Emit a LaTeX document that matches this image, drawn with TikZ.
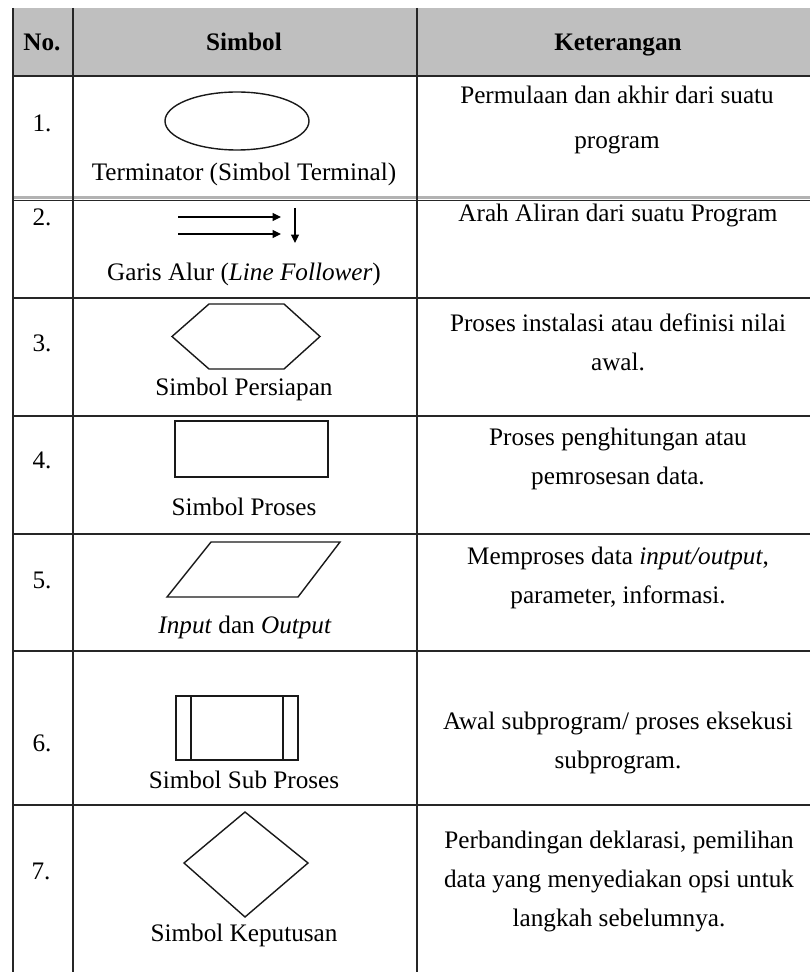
\documentclass[tikz,border=0pt]{standalone}
\usepackage{fontspec}
\setmainfont{Liberation Serif}
\usepackage{tikz}
\usetikzlibrary{calc}
\usetikzlibrary{arrows.meta}

\begin{document}
\begin{tikzpicture}[x=0.5pt,y=-0.5pt,
        cell/.style={font=\fontsize{12.6}{19.5}\selectfont, align=center, inner sep=0pt},
        head/.style={cell, font=\fontsize{12.6}{19.5}\selectfont\bfseries, text height=8.6pt, text depth=2.8pt},
        rule/.style={black!85, line width=0.8pt},
        shp/.style={draw, black!90, line width=0.7pt},
        flow/.style={black, line width=0.6pt, -{Triangle[length=4.2pt,width=4pt]}}]
        \useasboundingbox (0,0) rectangle (810,972);
        % header
        \fill[black!25] (13,8) rectangle (810,76);
        \fill[black!30] (13,196.5) rectangle (810,199.5);
        \draw[rule] (13,8) -- (13,972);
        \draw[rule] (73,8) -- (73,972);
        \draw[rule] (417,8) -- (417,972);
        \foreach \y in {76,200.5,298,416,534,651,805}
            \draw[rule] (13,\y) -- (810,\y);
        \node[head] (hno) at (42,45) {No.};
        \node[head] (hsym) at (244,45) {Simbol};
        \node[head] (hket) at (618,45) {Keterangan};

        % first row
        \node[cell] (n1) at (42,123) {1.};
        \draw[shp] (237,121) ellipse (72 and 29);
        \node[cell] (s1) at (244,174) {Terminator (Simbol Terminal)};
        \node[cell] (k1) at (617,120) {Permulaan dan akhir dari suatu\\[3pt]program};

        % sec row
        \node[cell] (n2) at (42,217) {2.};
        \coordinate (fa) at (178,217);
        \coordinate (fb) at (281,217);
        \coordinate (fc) at (178,234);
        \coordinate (fd) at (281,234);
        \coordinate (fe) at (295,208);
        \coordinate (ff) at (295,243);
        \draw[flow] (fa) -- (fb);
        \draw[flow] (fc) -- (fd);
        \draw[flow] (fe) -- (ff);
        \node[cell] (s2) at (244,274) {Garis Alur (\textit{Line Follower})};
        \node[cell] (k2) at (618,215) {Arah Aliran dari suatu Program};

        % third row
        \node[cell] (n3) at (42,343) {3.};
        \draw[shp] (172,336.5) -- (209,304) -- (284,304) -- (320,336.5) -- (284,369) -- (209,369) -- cycle;
        \node[cell] (s3) at (244,389) {Simbol Persiapan};
        \node[cell] (k3) at (618,342.5) {Proses instalasi atau definisi nilai\\awal.};

        % fourth row
        \node[cell] (n4) at (42,460) {4.};
        \draw[shp] (175,421) rectangle (328,477);
        \node[cell] (s4) at (244,507) {Simbol Proses};
        \node[cell] (k4) at (618,459) {Proses penghitungan atau\\pemrosesan data.};

        % fifth row
        \node[cell] (n5) at (42,580) {5.};
        \draw[shp] (211,542) -- (340,542) -- (298,597) -- (167,597) -- cycle;
        \node[cell] (s5) at (245,627) {\textit{Input} dan \textit{Output}};
        \node[cell] (k5) at (618,578) {Memproses data \textit{input/output},\\parameter, informasi.};

        % sixth row
        \node[cell] (n6) at (42,743) {6.};
        \draw[shp] (176,696) rectangle (298,760);
        \draw[shp] (191,696) -- (191,760);
        \draw[shp] (283,696) -- (283,760);
        \node[cell] (s6) at (244,780) {Simbol Sub Proses};
        \node[cell] (k6) at (618,743) {Awal subprogram/ proses eksekusi\\subprogram.};

        % seventh row
        \node[cell] (n7) at (41,871) {7.};
        \draw[shp] (245,812) -- (308,863) -- (245,917) -- (184,863) -- cycle;
        \node[cell] (s7) at (244,935) {Simbol Keputusan};
        \node[cell] (k7) at (619,881) {Perbandingan deklarasi, pemilihan\\data yang menyediakan opsi untuk\\langkah sebelumnya.};
    \end{tikzpicture}
\end{document}
